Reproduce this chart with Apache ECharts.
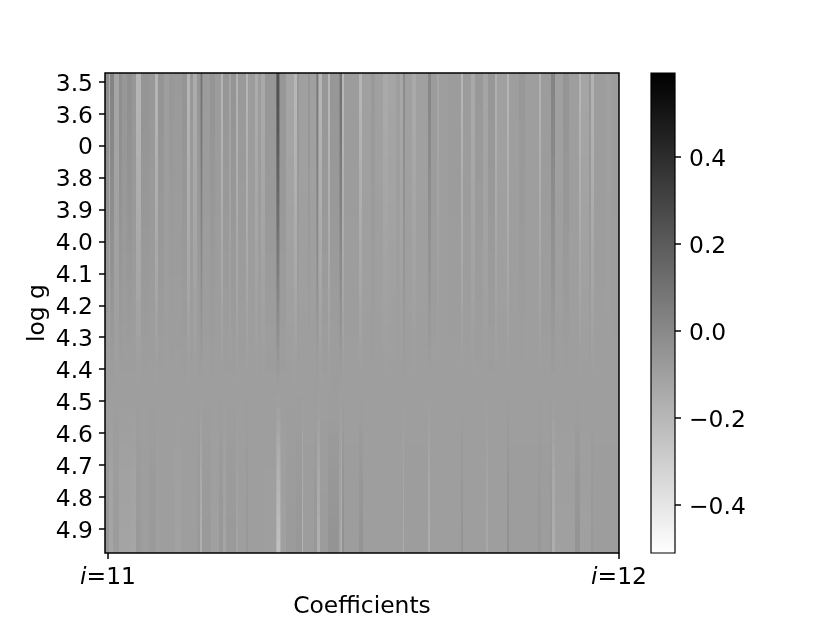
<!DOCTYPE html>
<html><head><meta charset="utf-8">
<style>html,body{margin:0;background:#fff}#c{width:830px;height:622px}</style>
<script src="https://cdn.jsdelivr.net/npm/echarts@6/dist/echarts.min.js"></script>
</head><body><div id="c"></div>
<script>
// Values are estimated by eye from the reference, not recovered source data.
// Each stripe list is [end column, value]; rows blend the two lists by the weights below.
const yTickLabels = ['3.5','3.6','0','3.8','3.9','4.0','4.1','4.2','4.3','4.4','4.5','4.6','4.7','4.8','4.9'];
const yTickValues = [0,1,2,3,4,5,6,7,8,9,10,11,12,13,14];
const xTickLabels = ['11','12'];
const xTickValues = [3,514];
const colorbarTicks = [-0.4,-0.2,0,0.2,0.4];
const baseValue = -0.09;
const topStripes = [[4,-.02],[5,-.164],[9,.02],[14,-.121],[17,-.02],[22,-.06],[27,-.03],[31,-.06],[36,-.19],[44,-.05],[50,-.065],[53,-.19],[59,-.05],[64,-.09],[69,-.065],[77,-.075],[82,-.05],[85,-.19],[88,-.065],[92,-.15],[95,-.06],[96,.0],[97,.11],[98,-.02],[105,-.08],[110,-.05],[116,-.08],[118,-.19],[124,-.06],[126,-.12],[131,-.05],[133,-.18],[141,-.07],[143,-.19],[150,-.08],[153,-.15],[156,-.08],[160,-.14],[171,-.06],[172,.12],[174,.24],[175,.06],[181,-.06],[189,-.12],[192,-.2],[194,-.06],[203,-.1],[205,-.06],[211,-.1],[212,0],[213,.08],[214,-.1],[217,-.19],[223,-.06],[225,-.2],[234,-.06],[235,.01],[237,.1],[239,-.2],[254,-.08],[257,-.19],[266,-.1],[270,-.07],[278,-.1],[283,-.14],[291,-.12],[295,-.09],[298,-.13],[300,-.01],[307,-.1],[311,-.14],[323,-.1],[326,.01],[332,-.08],[334,-.13],[343,-.09],[356,-.08],[358,-.19],[366,-.08],[370,-.14],[378,-.07],[383,-.12],[390,-.06],[392,-.17],[402,-.1],[404,-.19],[414,-.09],[420,-.065],[434,-.09],[436,-.18],[446,-.08],[450,.02],[458,-.1],[464,-.05],[468,-.09],[474,-.09],[476,-.19],[484,-.12],[486,-.06],[489,-.18],[500,-.085],[506,-.1],[514,-.08]];
const bottomStripes = [[4,-.05],[8,-.13],[14,-.08],[26,-.12],[31,-.13],[36,-.07],[44,-.09],[51,-.07],[54,-.1],[70,-.09],[76,-.11],[92,-.09],[95,-.065],[97,-.18],[106,-.07],[114,-.1],[118,-.06],[121,-.12],[131,-.07],[133,-.12],[141,-.09],[143,-.06],[160,-.09],[171,-.095],[172,-.2],[175,-.26],[176,-.17],[181,-.1],[191,-.075],[197,-.06],[198,-.2],[209,-.085],[212,-.06],[215,-.18],[223,-.08],[234,-.04],[236,-.12],[237,-.19],[239,-.02],[254,-.085],[258,-.04],[298,-.09],[299,-.16],[323,-.085],[325,-.17],[356,-.09],[358,-.04],[381,-.09],[383,-.14],[402,-.09],[404,-.02],[433,-.085],[436,-.06],[445,-.085],[447,-.06],[450,-.17],[470,-.1],[475,-.04],[486,-.1],[488,-.06],[514,-.085]];
const topWeights = [1,1,.98,.95,.92,.88,.85,.8,.76,.72,.68,.64,.6,.55,.5,.46,.42,.38,.33,.28,.24,.2,.15,.1,.06,.03,.01,0,0,0,0,0,0,0,0,0,0,0,0,0];
const bottomWeights = [0,0,0,0,0,0,0,0,0,0,0,0,0,0,0,0,0,0,0,0,0,0,0,0,0,.02,.03,.06,.12,.2,.3,.38,.45,.52,.58,.64,.7,.76,.82,.88];

const colMax = 514, yMin = -0.282, yMax = 14.75, cMin = -0.51, cMax = 0.593;
const rowH = (yMax - yMin) / topWeights.length;
const FONT = 'DejaVu Sans', FS = 23.4, TICK = 6;
function expand(runs){const a=[];let c=0;runs.forEach(r=>{while(c<r[0]){a.push(r[1]);c++;}});return a;}
const topCol = expand(topStripes), botCol = expand(bottomStripes);
const cells = [];
topWeights.forEach((tw,r)=>{
  for(let c=0;c<colMax;c++){
    const v = baseValue + tw*(topCol[c]-baseValue) + bottomWeights[r]*(botCol[c]-baseValue);
    cells.push([c+.5, yMin+(r+.5)*rowH, +v.toFixed(4)]);
  }
});
const L=105,T=73,W=514,H=480,CL=651,CW=24;
const chart = echarts.init(document.getElementById('c'),null,{renderer:'canvas'});
const shiftRich = {a:{fontFamily:FONT,fontSize:FS,color:'#000',padding:[5,0,0,0]}};
function tickMark(p0,p1,dx,dy){
  const x=Math.round(p0),y=Math.round(p1);
  return {type:'line',shape:{x1:x,y1:y,x2:x+dx,y2:y+dy},style:{stroke:'#000',lineWidth:1.5}};
}
chart.setOption({
  animation:false,
  backgroundColor:'#fff',
  textStyle:{fontFamily:FONT},
  grid:[{left:L,top:T,width:W,height:H,outerBoundsMode:'none'},{left:CL,top:T,width:CW,height:H,outerBoundsMode:'none'}],
  visualMap:{show:false,type:'continuous',min:cMin,max:cMax,dimension:2,seriesIndex:0,inRange:{color:['#ffffff','#000000']}},
  xAxis:[{
    type:'value',gridIndex:0,min:0,max:colMax,splitLine:{show:false},
    axisLine:{show:false},axisTick:{show:false},
    axisLabel:{show:true,customValues:xTickValues,margin:13,color:'#000',fontFamily:FONT,fontSize:FS,
      formatter:v=>'{i|i}{n|='+(v<100?xTickLabels[0]:xTickLabels[1])+'}',
      rich:{i:{fontStyle:'italic',fontFamily:FONT,fontSize:FS,color:'#000'},n:{fontFamily:FONT,fontSize:FS,color:'#000'}}},
    name:'Coefficients',nameLocation:'middle',nameGap:42,nameMoveOverlap:false,nameTextStyle:{color:'#000',fontFamily:FONT,fontSize:FS}
  },{
    type:'value',gridIndex:1,min:0,max:1,show:false
  }],
  yAxis:[{
    type:'value',gridIndex:0,inverse:true,min:yMin,max:yMax,splitLine:{show:false},
    axisLine:{show:false},axisTick:{show:false},
    axisLabel:{show:true,customValues:yTickValues,margin:12,color:'#000',fontFamily:FONT,fontSize:FS,
      formatter:v=>'{a|'+yTickLabels[Math.round(v)]+'}',rich:shiftRich},
    name:'log g',nameLocation:'middle',nameGap:56,nameRotate:90,nameMoveOverlap:false,nameTextStyle:{color:'#000',fontFamily:FONT,fontSize:FS}
  },{
    type:'value',gridIndex:1,position:'right',min:cMin,max:cMax,splitLine:{show:false},
    axisLine:{show:false},axisTick:{show:false},
    axisLabel:{show:true,customValues:colorbarTicks,margin:14,color:'#000',fontFamily:FONT,fontSize:FS,
      formatter:v=>'{a|'+(v<0?'\u2212':'')+Math.abs(v).toFixed(1)+'}',rich:shiftRich}
  }],
  series:[{
    type:'custom',xAxisIndex:0,yAxisIndex:0,coordinateSystem:'cartesian2d',progressive:0,silent:true,z:2,
    encode:{x:0,y:1},
    data:cells,
    renderItem:(p,api)=>{
      const a=api.coord([api.value(0)-.5,api.value(1)-rowH/2]);
      const b=api.coord([api.value(0)+.5,api.value(1)+rowH/2]);
      const x0=Math.round(a[0]),y0=Math.round(a[1]),x1=Math.round(b[0]),y1=Math.round(b[1]);
      return {type:'rect',shape:{x:x0,y:y0,width:x1-x0,height:y1-y0},style:{fill:api.visual('color')}};
    }
  },{
    type:'custom',xAxisIndex:1,yAxisIndex:1,silent:true,
    data:[[0,cMin,1,cMax]],encode:{x:[0,2],y:[1,3]},
    renderItem:(p,api)=>{
      const a=api.coord([0,cMax]),b=api.coord([1,cMin]);
      return {type:'rect',shape:{x:a[0],y:a[1],width:b[0]-a[0],height:b[1]-a[1]},
        style:{fill:new echarts.graphic.LinearGradient(0,0,0,1,[{offset:0,color:'#000'},{offset:1,color:'#fff'}])}};
    }
  },{
    type:'custom',xAxisIndex:0,yAxisIndex:0,silent:true,clip:false,z:5,
    data:yTickValues.map(v=>[0,v]),encode:{x:0,y:1},
    renderItem:(p,api)=>{const c=api.coord([0,api.value(1)]);return tickMark(c[0],c[1],-TICK,0);}
  },{
    type:'custom',xAxisIndex:0,yAxisIndex:0,silent:true,clip:false,z:5,
    data:xTickValues.map(v=>[v,yMax]),encode:{x:0,y:1},
    renderItem:(p,api)=>{const c=api.coord([api.value(0),yMax]);return tickMark(c[0],c[1],0,TICK);}
  },{
    type:'custom',xAxisIndex:1,yAxisIndex:1,silent:true,clip:false,z:5,
    data:colorbarTicks.map(v=>[1,v]),encode:{x:0,y:1},
    renderItem:(p,api)=>{const c=api.coord([1,api.value(1)]);return tickMark(c[0],c[1],TICK,0);}
  }],
  graphic:[
    {type:'rect',z:100,silent:true,shape:{x:L,y:T,width:W,height:H},style:{fill:'none',stroke:'#000',lineWidth:1.5}},
    {type:'rect',z:100,silent:true,shape:{x:CL,y:T,width:CW,height:H},style:{fill:'none',stroke:'#000',lineWidth:1.2}}
  ]
});
</script></body></html>
